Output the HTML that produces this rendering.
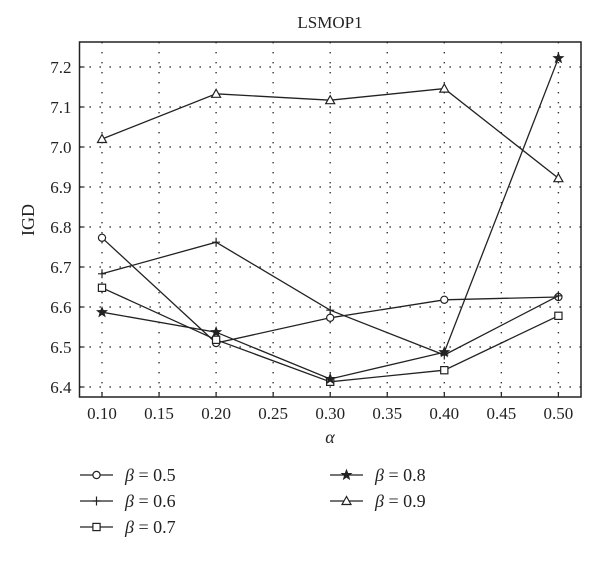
<!DOCTYPE html>
<html><head><meta charset="utf-8"><style>
body{margin:0;background:#fff;width:600px;height:557px;overflow:hidden}
text{font-family:"Liberation Serif",serif;fill:#222}
</style></head><body>
<svg id="chart" width="600" height="557" viewBox="0 0 600 557" xmlns="http://www.w3.org/2000/svg">
<text x="330" y="28" font-size="17" text-anchor="middle">LSMOP1</text>
<text x="0" y="0" font-size="18" text-anchor="middle" transform="translate(34,220) rotate(-90)">IGD</text>
<text x="330" y="443" font-size="18" font-style="italic" text-anchor="middle">α</text>
<g id="grid"></g><g id="axes"></g><g id="series"></g><g id="legend"></g>
</svg>
<script>
const xValues=[0.10,0.20,0.30,0.40,0.50];
const xTicks=[0.10,0.15,0.20,0.25,0.30,0.35,0.40,0.45,0.50];
const yTicks=[6.4,6.5,6.6,6.7,6.8,6.9,7.0,7.1,7.2];
const seriesNames=["β = 0.5","β = 0.6","β = 0.7","β = 0.8","β = 0.9"];
const s05=[6.773,6.510,6.573,6.618,6.625];
const s06=[6.683,6.762,6.592,6.480,6.628];
const s07=[6.648,6.518,6.413,6.442,6.578];
const s08=[6.587,6.537,6.420,6.487,7.222];
const s09=[7.020,7.133,7.117,7.146,6.922];
const markers=["circle","plus","square","star","triangle"];
const NS="http://www.w3.org/2000/svg";
const L=79.5,R=581,T=42,B=397;
function xs(v){return 102+(v-0.10)*1141;}
function ys(v){return 147-(v-7.0)*400;}
function mk(tag,attrs,parent){const e=document.createElementNS(NS,tag);for(const k in attrs)e.setAttribute(k,attrs[k]);parent.appendChild(e);return e;}
const grid=document.getElementById('grid'),axes=document.getElementById('axes'),ser=document.getElementById('series'),leg=document.getElementById('legend');
xTicks.forEach(t=>{const x=xs(t);
 const g=mk('line',{x1:x,x2:x,y1:T,y2:B,stroke:'#333','stroke-width':1.4,'stroke-dasharray':'1.4 8.6'},grid);
 
 
 const tk=mk('line',{x1:x,x2:x,y1:B,y2:B-5,stroke:'#222','stroke-width':1.2},axes);
 
 
 const lb=mk('text',{x:x,y:419,'font-size':17,'text-anchor':'middle'},axes);lb.textContent=t.toFixed(2);
 
 
});
yTicks.forEach(t=>{const y=ys(t);
 const g=mk('line',{x1:L,x2:R,y1:y,y2:y,stroke:'#333','stroke-width':1.4,'stroke-dasharray':'1.4 8.6'},grid);
 
 
 const tk=mk('line',{x1:L,x2:L+5,y1:y,y2:y,stroke:'#222','stroke-width':1.2},axes);
 
 
 const lb=mk('text',{x:L-8,y:y+6,'font-size':17,'text-anchor':'end'},axes);lb.textContent=t.toFixed(1);
 
 
});
const frame=mk('rect',{x:L,y:T,width:R-L,height:B-T,fill:'none',stroke:'#222','stroke-width':1.5},axes);


function drawMarker(type,x,y,p){
 const a={fill:'#fff',stroke:'#222','stroke-width':1.2};let e;
 if(type==='circle')e=mk('circle',Object.assign({cx:x,cy:y,r:3.6},a),p);
 else if(type==='square')e=mk('rect',Object.assign({x:x-3.6,y:y-3.6,width:7.2,height:7.2},a),p);
 else if(type==='triangle')e=mk('polygon',Object.assign({points:`${x},${y-4.5} ${x-4.5},${y+3.5} ${x+4.5},${y+3.5}`},a),p);
 else if(type==='plus')e=mk('path',{d:`M${x-4},${y}H${x+4}M${x},${y-4.5}V${x?y+4.5:0}`,stroke:'#222','stroke-width':1.2,fill:'none'},p);
 else {let pts=[];for(let i=0;i<10;i++){const r=i%2?2.3:5.5,an=-Math.PI/2+i*Math.PI/5;pts.push((x+r*Math.cos(an)).toFixed(2)+','+(y+r*Math.sin(an)).toFixed(2));}
  e=mk('polygon',{points:pts.join(' '),fill:'#222',stroke:'#222','stroke-width':0.6},p);}
 return e;
}
const allSeries=[s05,s06,s07,s08,s09];
allSeries.forEach((vals,i)=>{
 const g=mk('g',{},ser);
 
 
 const pl=mk('polyline',{points:vals.map((v,j)=>xs(xValues[j])+','+ys(v)).join(' '),fill:'none',stroke:'#222','stroke-width':1.3},g);
 
 
 vals.forEach((v,j)=>{const m=drawMarker(markers[i],xs(xValues[j]),ys(v),g);
  
  });
});
const legPos=[[80,475],[80,501],[80,527],[330,475],[330,501]];
seriesNames.forEach((n,i)=>{
 const [x,y]=legPos[i];const g=mk('g',{},leg);
 
 
 mk('line',{x1:x,x2:x+33,y1:y,y2:y,stroke:'#222','stroke-width':1.3},g);
 drawMarker(markers[i],x+16.5,y,g);
 const t=mk('text',{x:x+45,y:y+6,'font-size':18},g);
 t.innerHTML='<tspan font-style="italic">β</tspan> = '+n.split('= ')[1];
});
</script>
</body></html>
